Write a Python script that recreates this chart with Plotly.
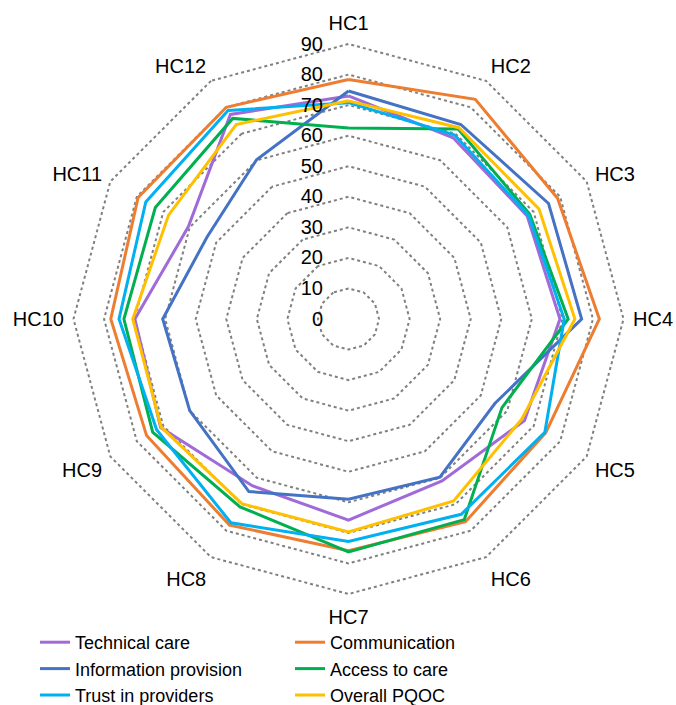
import plotly.graph_objects as go

categories = ["HC1", "HC2", "HC3", "HC4", "HC5", "HC6", "HC7", "HC8", "HC9", "HC10", "HC11", "HC12"]

technical_care = [73.0, 68.5, 67.5, 69.2, 66.5, 61.2, 65.8, 63.0, 71.0, 69.9, 60.5, 77.3]
communication = [78.4, 83.0, 79.0, 82.1, 74.5, 76.6, 75.8, 77.9, 76.3, 77.8, 79.5, 80.0]
information_provision = [74.6, 73.5, 75.6, 76.3, 55.3, 59.8, 59.0, 65.2, 60.0, 60.8, 53.5, 60.2]
access_to_care = [62.5, 71.8, 68.5, 71.9, 58.0, 75.8, 76.2, 71.0, 74.0, 73.5, 73.0, 75.8]
trust_in_providers = [70.8, 69.5, 68.0, 70.6, 74.2, 73.8, 72.8, 77.0, 72.5, 75.1, 76.6, 78.8]
overall_pqoc = [71.4, 72.3, 72.0, 74.1, 65.5, 68.8, 69.7, 69.8, 70.8, 70.6, 68.0, 73.5]

radial_ticks = [0, 10, 20, 30, 40, 50, 60, 70, 80, 90]

series = [
    ("Technical care", technical_care, "#A06AD8"),
    ("Communication", communication, "#ED7D31"),
    ("Information provision", information_provision, "#4472C4"),
    ("Access to care", access_to_care, "#00B050"),
    ("Trust in providers", trust_in_providers, "#00B0F0"),
    ("Overall PQOC", overall_pqoc, "#FFC000"),
]

fig = go.Figure()
for name, vals, color in series:
    fig.add_trace(go.Scatterpolar(
        r=vals + vals[:1],
        theta=categories + categories[:1],
        mode="lines",
        name=name,
        line=dict(color=color, width=3),
    ))

W, H = 676, 705
cx, cy, R = 348.5, 319, 275
rmax = 91
Rdom = R * rmax / 90

fig.update_layout(
    width=W, height=H,
    margin=dict(l=0, r=0, t=0, b=0, autoexpand=False),
    paper_bgcolor="white",
    plot_bgcolor="white",
    font=dict(family="Liberation Sans, Arial, sans-serif", size=20, color="#000000"),
    polar=dict(
        domain=dict(x=[(cx - Rdom) / W, (cx + Rdom) / W], y=[1 - (cy + Rdom) / H, 1 - (cy - Rdom) / H]),
        bgcolor="white",
        gridshape="linear",
        radialaxis=dict(
            range=[0, rmax],
            tickvals=radial_ticks,
            ticktext=[str(v) for v in radial_ticks],
            angle=90,
            tickangle=90,
            side="counterclockwise",
            showline=False,
            ticks="outside",
            ticklen=18,
            tickcolor="rgba(0,0,0,0)",
            showgrid=True,
            gridcolor="#808080",
            gridwidth=2,
            griddash="dot",
            tickfont=dict(size=20, color="#000000"),
        ),
        angularaxis=dict(
            direction="clockwise",
            rotation=90,
            showgrid=False,
            showline=False,
            ticks="outside",
            ticklen=2,
            tickcolor="rgba(0,0,0,0)",
            tickfont=dict(size=20, color="#000000"),
        ),
    ),
    legend=dict(
        orientation="h",
        x=35 / W, xanchor="left",
        y=1 - 624 / H, yanchor="top",
        entrywidth=210,
        entrywidthmode="pixels",
        font=dict(family="Liberation Sans, Arial, sans-serif", size=18, color="#000000"),
        bgcolor="rgba(0,0,0,0)",
        itemwidth=30,
        tracegroupgap=0,
    ),
    showlegend=True,
)

fig.write_html(
    "out.html",
    config={"displayModeBar": False},
    post_script="document.body.style.margin='0';document.body.style.overflow='hidden';",
)
